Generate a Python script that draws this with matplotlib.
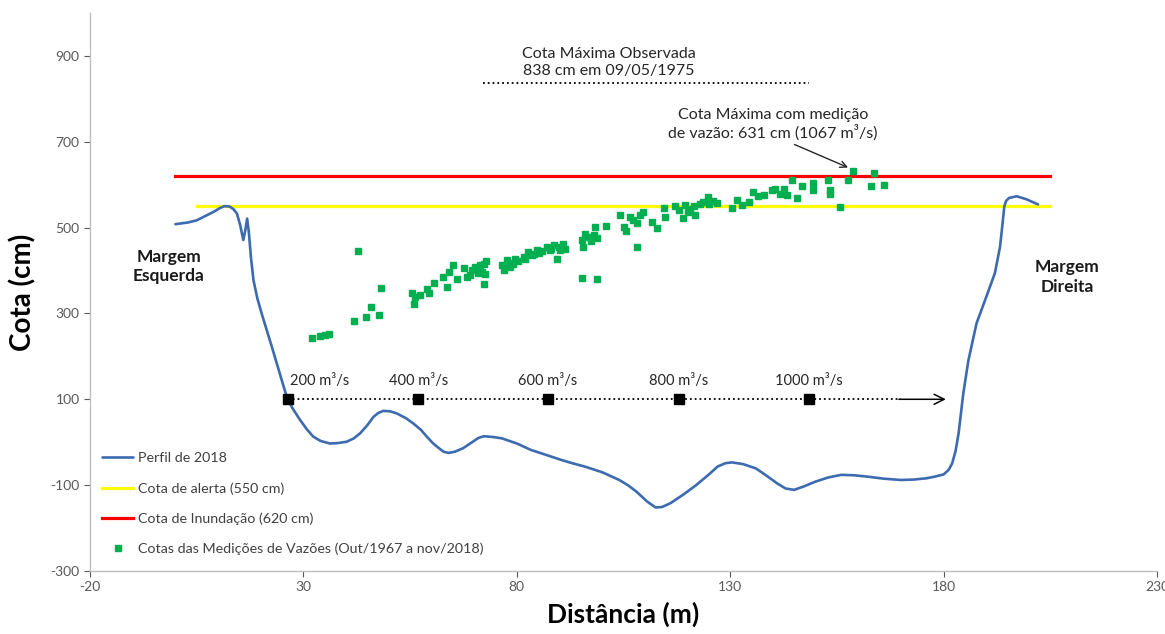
import numpy as np
import matplotlib
matplotlib.use("Agg")
import matplotlib.pyplot as plt

plt.rcParams['font.family'] = ['Lato', 'DejaVu Sans']
plt.rcParams['axes.unicode_minus'] = False

# perfil transversal de 2018 (distancia em m, cota em cm)
perfil_x = [0, 3, 5, 7, 9, 10.5, 11.5, 12.7, 13.6, 14.4, 15.2, 15.9, 16.4, 16.8, 17.2,
            17.7, 18.3, 19.2, 20.2, 22.6, 24.9, 26.2, 27.5, 29.2, 30.8, 32.3, 34, 36.2,
            38, 40.1, 41.8, 43.3, 45, 46.4, 47.5, 48.7, 50.3, 51.9, 54, 55.7, 57.5, 58.9,
            60.3, 61.5, 62.8, 64, 65.5, 67.4, 69.5, 71, 72.3, 74.5, 76.5, 80, 83.3, 87,
            90, 93, 96, 100, 104, 106, 108, 110.5, 112.5, 114, 116, 119, 122, 125, 127,
            128.8, 130.4, 133, 136, 138.5, 141, 143, 145, 147.5, 149.9, 153, 156, 159,
            162, 166, 170, 173, 176, 178, 180, 181.2, 182, 182.8, 183.5, 184.6, 185.8,
            187.7, 190, 192, 193.2, 193.8, 194.2, 194.6, 195.3, 197.1, 199.4, 202.1]
perfil_y = [508, 512, 517, 527, 537, 546, 550, 549, 543, 533, 505, 471, 495, 521, 490,
            430, 377, 335, 300, 222, 145, 102, 78, 52, 30, 13, 3, -3,
            -2, 1, 9, 21, 40, 59, 68, 73, 72, 67, 56, 44, 29, 13,
            -2, -12, -22, -25, -22, -14, 0, 10, 14, 12, 9, -3, -18, -30,
            -40, -49, -57, -70, -88, -100, -115, -138, -152, -151, -142, -122, -100, -75, -57,
            -49, -47, -51, -61, -78, -96, -108, -111, -102, -92, -82, -76, -77,
            -80, -85, -88, -87, -84, -80, -75, -64, -49, -20, 21, 114, 191,
            277, 339, 394, 455, 510, 549, 562, 569, 573, 566, 554]

# cotas das medicoes de vazao
med_x = [31.9, 33.9, 35.1, 36.1, 41.9, 44.7, 45.8, 47.8, 48.1, 42.7,
         55.4, 56.2, 55.9, 57.2, 58.9, 59.5, 60.6, 62.8, 63.6, 64, 65, 65.9,
         67.5, 68.3, 69.4, 70.2, 71.4, 71.8, 72.2, 72.6, 72.8, 72.3, 70.8, 69.0,
         76.5, 77.6, 78.4, 79.2, 79.6, 77.0, 78.0, 80.2,
         81.6, 82.7, 83.5, 84.7, 85.3, 82.0, 84.0, 86.0,
         87, 87.8, 88.6, 89.8, 90.8, 91.3, 89.4, 88.0, 90.2,
         95.2, 95.6, 96, 96.8, 98, 98.7, 98.4, 95.2, 98.7, 97.4,
         100.9, 104.2, 105, 105.6, 106.5, 107.3, 108.25, 108.1, 108.9, 109.5,
         111.6, 112.9, 114.5, 114.7, 117.1, 117.9, 118.9, 119.4, 120, 120.6, 121.4,
         121.8, 122.8, 123.7, 124.7, 125.1, 125.9, 126.8, 130.4, 131.5, 132.7,
         134.3, 135.4, 136.6, 137.8, 139.7, 140.5, 141.7, 142.5, 143.3, 144.4, 145.6,
         146.8, 149.3, 149.5, 153, 153.4, 153.4, 155.8, 157.7, 158.7, 163.6, 162.9, 166.1]
med_y = [242, 248, 250, 253, 283, 292, 314, 297, 360, 445,
         348, 339, 322, 343, 356, 347, 370, 385, 362, 397, 412, 381,
         405, 385, 401, 409, 412, 397, 416, 392, 423, 368, 395, 390,
         412, 424, 409, 416, 428, 402, 418, 422,
         432, 443, 436, 447, 440, 428, 438, 445,
         455, 447, 459, 455, 461, 451, 426, 450, 448,
         471, 455, 486, 478, 482, 475, 502, 383, 381, 468,
         504, 530, 502, 492, 525, 517, 455, 511, 529, 537,
         513, 498, 546, 525, 550, 541, 523, 552, 537, 544, 550,
         529, 556, 560, 572, 555, 562, 558, 546, 565, 552,
         560, 583, 573, 575, 587, 591, 579, 591, 575, 610, 570,
         596, 603, 587, 610, 587, 579, 548, 610, 631, 628, 596, 599]

cota_alerta = 550
cota_inundacao = 620
cota_max_obs = 838

vazao_x = [26.4, 56.9, 87.3, 118, 148.5]
vazao_labels = ["200 m³/s", "400 m³/s", "600 m³/s", "800 m³/s", "1000 m³/s"]

fig = plt.figure(figsize=(11.65, 6.34), dpi=100)
ax = fig.add_axes([0.0773, 0.0994, 0.9159, 0.8801])

ax.plot(perfil_x, perfil_y, color='#3D6BB0', lw=1.9, label='Perfil de 2018', zorder=3,
        solid_joinstyle='round', solid_capstyle='round')
ax.plot([5, 205], [cota_alerta, cota_alerta], color='#FFFF00', lw=2.3,
        label='Cota de alerta (550 cm)', zorder=2)
ax.plot([0, 205], [cota_inundacao, cota_inundacao], color='#FF0000', lw=2.3,
        label='Cota de Inundação (620 cm)', zorder=2)
ax.plot(med_x, med_y, 's', color='#00B050', ms=5, ls='none',
        label='Cotas das Medições de Vazões (Out/1967 a nov/2018)', zorder=4)

# escala de vazoes
ax.plot([vazao_x[0], 170], [100, 100], color='black', ls=':', lw=1.3, zorder=4)
ax.annotate('', xy=(180.5, 100), xytext=(169.5, 100),
            arrowprops=dict(arrowstyle='->', color='black', lw=1.1,
                            mutation_scale=18, shrinkA=0, shrinkB=0))
ax.plot(vazao_x, [100] * len(vazao_x), 's', color='black', ms=6.5, zorder=5)
for i, (vx, lab) in enumerate(zip(vazao_x, vazao_labels)):
    tx = vx + 7.5 if i == 0 else vx
    ax.text(tx, 127, lab, ha='center', va='bottom', fontsize=10.5, color='#262626')

# cota maxima observada
ax.plot([72, 148.5], [cota_max_obs, cota_max_obs], color='black', ls=':', lw=1.3)
ax.text(101.5, 884, 'Cota Máxima Observada\n838 cm em 09/05/1975', ha='center',
        va='center', fontsize=11.5, color='#262626', linespacing=1.25)

ax.annotate('Cota Máxima com medição\nde vazão: 631 cm (1067 m³/s)',
            xy=(157.6, 640), xytext=(140, 741), ha='center', va='center',
            fontsize=11.5, color='#262626', linespacing=1.2,
            arrowprops=dict(arrowstyle='->', color='#262626', lw=1.0,
                            relpos=(0.56, 0.0), shrinkA=2, shrinkB=0))

ax.text(-1.5, 410, 'Margem\nEsquerda', ha='center', va='center', fontsize=12.5,
        fontweight='bold', color='#1a1a1a', linespacing=1.25)
ax.text(209, 385, 'Margem\nDireita', ha='center', va='center', fontsize=12.5,
        fontweight='bold', color='#1a1a1a', linespacing=1.25)

ax.set_xlim(-20, 230)
ax.set_ylim(-300, 1000)
ax.set_xticks(np.arange(-20, 231, 50))
ax.set_yticks(np.arange(-300, 901, 200))
ax.tick_params(axis='both', labelsize=10, colors='#595959', length=4, width=0.8)
for s in ['top', 'right']:
    ax.spines[s].set_visible(False)
for s in ['left', 'bottom']:
    ax.spines[s].set_color('#BFBFBF')
    ax.spines[s].set_linewidth(1.0)

ax.set_xlabel('Distância (m)', fontsize=19, fontweight='bold', color='black', labelpad=6)
ax.set_ylabel('Cota (cm)', fontsize=20, fontweight='bold', color='black', labelpad=10)

ax.legend(loc='upper left', bbox_to_anchor=(0.0112, 0.213), frameon=False,
          fontsize=10.3, handlelength=2.2, handletextpad=0.3, labelspacing=1.25,
          borderpad=0, borderaxespad=0, labelcolor='#404040')

fig.savefig('out.png', dpi=100)
